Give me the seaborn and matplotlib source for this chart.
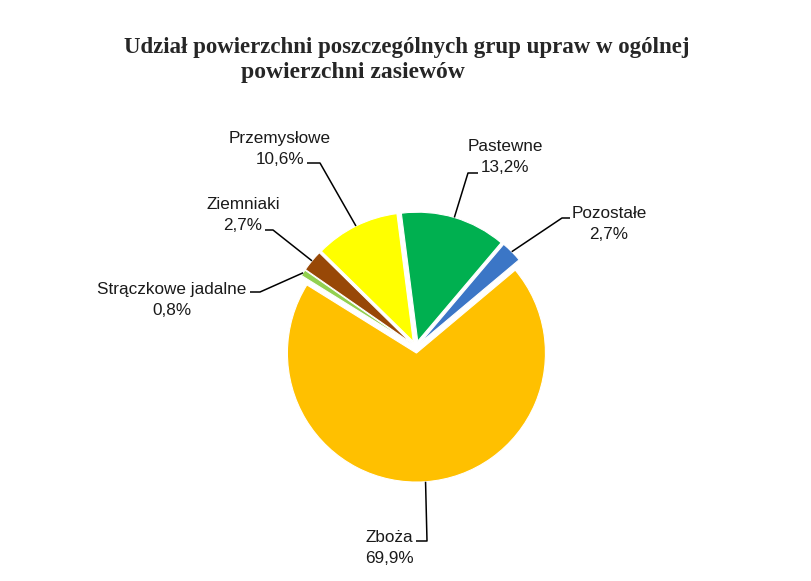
import numpy as np
import matplotlib
matplotlib.use('Agg')
import matplotlib.pyplot as plt
import seaborn as sns

# shares of sown area, in drawing order (clockwise)
categories = ["Zboża", "Strączkowe jadalne", "Ziemniaki", "Przemysłowe",
              "Pastewne", "Pozostałe"]
shares = [69.9, 0.8, 2.7, 10.6, 13.2, 2.7]
colors = ["#FFC000", "#92D050", "#984807", "#FFFF00", "#00B050", "#3B76C6"]
explode_frac = [0.047] * len(shares)

title_1 = "Udział powierzchni poszczególnych grup upraw w ogólnej"
title_2 = "powierzchni zasiewów"

W, H = 812, 581
R = 129

# label layout in pixels from top-left: text centre, leader elbow points
label_pos = {
    "Zboża": (389, 548),
    "Strączkowe jadalne": (172, 300),
    "Ziemniaki": (243, 215),
    "Przemysłowe": (280, 149),
    "Pastewne": (505, 157),
    "Pozostałe": (609, 224),
}
leader_elbow = {
    "Zboża": [(416, 541), (427, 541)],
    "Strączkowe jadalne": [(250, 292), (260, 292)],
    "Ziemniaki": [(265, 230), (273, 230)],
    "Przemysłowe": [(307, 163), (320, 163)],
    "Pastewne": [(478, 173), (468, 173)],
    "Pozostałe": [(570, 218), (562, 218)],
}


def fmt(v):
    return f"{v:.1f}".replace(".", ",") + "%"


sns.set_theme(style="white")
plt.rcParams['font.family'] = ['Liberation Sans', 'DejaVu Sans']

fig = plt.figure(figsize=(W / 100, H / 100), dpi=100)
ax = fig.add_axes([0, 0, 1, 1])

# matplotlib's explode offset is in data units, so scale by the radius
wedges, _ = ax.pie(shares, colors=colors,
                   explode=[e * R for e in explode_frac], startangle=40,
                   counterclock=False, center=(416, H - 347), radius=R,
                   wedgeprops=dict(edgecolor="white", linewidth=0.8))
ax.set_xlim(0, W)
ax.set_ylim(0, H)
ax.set_aspect("equal")
ax.axis("off")

for w, cat, val in zip(wedges, categories, shares):
    tx, ty = label_pos[cat]
    ax.text(tx, H - ty, f"{cat}\n{fmt(val)}", ha="center", va="center",
            multialignment="center", fontsize=12.3, linespacing=1.42,
            color="#1a1a1a")
    mid = np.deg2rad((w.theta1 + w.theta2) / 2)
    cx, cy = w.center
    ex, ey = cx + w.r * np.cos(mid), cy + w.r * np.sin(mid)
    pts = leader_elbow[cat]
    xs = [p[0] for p in pts] + [ex]
    ys = [H - p[1] for p in pts] + [ey]
    ax.plot(xs, ys, color="black", lw=1.1, solid_capstyle="butt")

ax.text(407, H - 47, title_1, ha="center", va="center", fontsize=16.5,
        fontweight="bold", family=["Liberation Serif", "DejaVu Serif"])
ax.text(353, H - 73, title_2, ha="center", va="center", fontsize=17,
        fontweight="bold", family=["Liberation Serif", "DejaVu Serif"])

fig.savefig("out.png", dpi=100)
plt.close(fig)
